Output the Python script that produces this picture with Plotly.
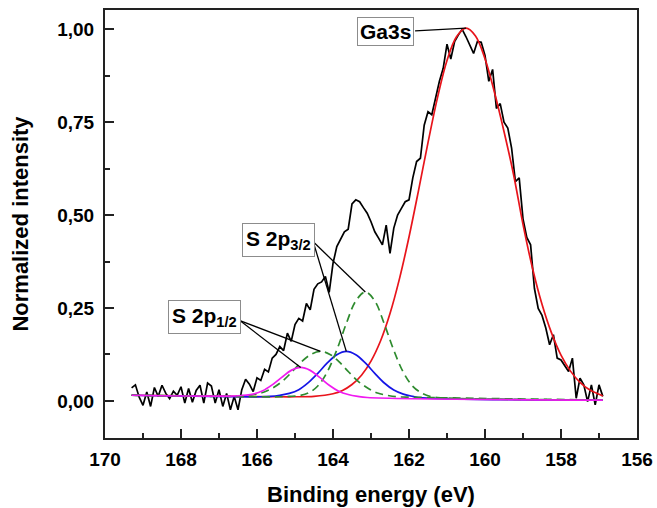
import plotly.graph_objects as go
import numpy as np

# ---- measured spectrum (binding energy, normalized intensity) ----
be = [169.3, 169.2, 169.1, 169.0, 168.9, 168.8, 168.7, 168.6, 168.5, 168.4,
      168.3, 168.2, 168.1, 168.0, 167.9, 167.8, 167.7, 167.6, 167.5, 167.4,
      167.3, 167.2, 167.1, 167.0, 166.9, 166.8, 166.7, 166.6, 166.5, 166.4,
      166.3, 166.2, 166.1, 166.0, 165.9, 165.8, 165.7, 165.6, 165.5, 165.4,
      165.3, 165.2, 165.1, 165.0, 164.9, 164.8, 164.7, 164.6, 164.5, 164.4,
      164.3, 164.2, 164.1, 164.0, 163.9, 163.8, 163.7, 163.6, 163.5, 163.4,
      163.3, 163.2, 163.1, 163.0, 162.9, 162.8, 162.7, 162.6, 162.5, 162.4,
      162.3, 162.2, 162.1, 162.0, 161.9, 161.8, 161.7, 161.6, 161.5, 161.4,
      161.3, 161.2, 161.1, 161.0, 160.9, 160.8, 160.7, 160.6, 160.5, 160.4,
      160.3, 160.2, 160.1, 160.0, 159.9, 159.8, 159.7, 159.6, 159.5, 159.4,
      159.3, 159.2, 159.1, 159.0, 158.9, 158.8, 158.7, 158.6, 158.5, 158.4,
      158.3, 158.2, 158.1, 158.0, 157.9, 157.8, 157.7, 157.6, 157.5, 157.4,
      157.3, 157.2, 157.1, 157.0, 156.9]
intensity = [0.035, 0.043, 0.010, -0.012, 0.024, -0.015, 0.036, 0.012, 0.042, 0.020,
             0.006, 0.026, 0.015, 0.038, -0.006, 0.033, -0.004, 0.028, 0.042, -0.006,
             0.048, 0.040, -0.006, 0.030, -0.015, 0.020, -0.024, 0.012, -0.024, 0.030,
             0.058, 0.045, 0.025, 0.062, 0.055, 0.085, 0.078, 0.115, 0.125, 0.146,
             0.135, 0.182, 0.160, 0.205, 0.222, 0.215, 0.262, 0.245, 0.300, 0.315,
             0.320, 0.335, 0.292, 0.370, 0.415, 0.435, 0.455, 0.462, 0.530, 0.541,
             0.536, 0.520, 0.505, 0.482, 0.455, 0.438, 0.420, 0.473, 0.397, 0.465,
             0.500, 0.518, 0.536, 0.541, 0.600, 0.644, 0.653, 0.742, 0.778, 0.770,
             0.814, 0.860, 0.895, 0.960, 0.920, 0.967, 0.985, 1.000, 0.980, 0.955,
             0.935, 0.967, 0.965, 0.930, 0.860, 0.892, 0.787, 0.800, 0.750, 0.734,
             0.680, 0.590, 0.600, 0.490, 0.440, 0.420, 0.303, 0.249, 0.230, 0.196,
             0.151, 0.178, 0.115, 0.110, 0.095, 0.079, 0.115, 0.007, 0.061, 0.043,
             -0.002, 0.043, -0.011, 0.043, 0.012]

# ---- fitted components ----
ga3s_x = [169.3, 165.5, 165.0, 164.5, 164.0, 163.75, 163.5, 163.25, 163.0, 162.75,
          162.5, 162.25, 162.0, 161.75, 161.5, 161.25, 161.0, 160.75, 160.5, 160.25,
          160.0, 159.75, 159.5, 159.25, 159.0, 158.75, 158.5, 158.25, 158.0, 157.75,
          157.5, 157.25, 157.0, 156.9]
ga3s_y = [0.015, 0.011, 0.011, 0.012, 0.019, 0.028, 0.044, 0.069, 0.107, 0.161,
          0.235, 0.329, 0.441, 0.566, 0.695, 0.816, 0.916, 0.980, 1.003, 0.982,
          0.921, 0.830, 0.725, 0.610, 0.475, 0.357, 0.260, 0.183, 0.123, 0.080,
          0.050, 0.030, 0.018, 0.013]

s32a_x = [169.3, 165.4, 165.15, 164.9, 164.65, 164.4, 164.15, 163.9, 163.65, 163.4,
          163.15, 162.9, 162.65, 162.4, 162.15, 161.9, 161.65, 161.4, 161.15, 156.9]
s32a_y = [0.015, 0.011, 0.012, 0.014, 0.021, 0.040, 0.078, 0.137, 0.208, 0.269,
          0.293, 0.269, 0.207, 0.136, 0.077, 0.039, 0.020, 0.011, 0.008, 0.002]

s12a_x = [169.3, 166.58, 166.33, 166.08, 165.83, 165.58, 165.33, 165.08, 164.83, 164.58,
          164.33, 164.08, 163.83, 163.58, 163.33, 163.08, 162.83, 162.58, 162.33, 162.08, 156.9]
s12a_y = [0.015, 0.013, 0.014, 0.017, 0.023, 0.035, 0.053, 0.078, 0.105, 0.125,
          0.133, 0.125, 0.104, 0.077, 0.052, 0.034, 0.021, 0.015, 0.011, 0.010, 0.002]

s32b_x = [169.3, 165.9, 165.65, 165.4, 165.15, 164.9, 164.65, 164.4, 164.15, 163.9,
          163.65, 163.4, 163.15, 162.9, 162.65, 162.4, 162.15, 161.9, 161.65, 156.9]
s32b_y = [0.015, 0.011, 0.012, 0.015, 0.020, 0.030, 0.049, 0.074, 0.102, 0.124,
          0.133, 0.124, 0.102, 0.074, 0.048, 0.029, 0.018, 0.012, 0.008, 0.002]

s12b_x = [169.3, 166.6, 166.35, 166.1, 165.85, 165.6, 165.35, 165.1, 164.85, 164.6,
          164.35, 164.1, 163.85, 163.6, 163.35, 163.1, 156.9]
s12b_y = [0.015, 0.013, 0.015, 0.018, 0.027, 0.043, 0.063, 0.082, 0.090, 0.082,
          0.063, 0.042, 0.026, 0.017, 0.012, 0.009, 0.002]

x_ticks = [170, 168, 166, 164, 162, 160, 158, 156]
y_ticks = [0.0, 0.25, 0.5, 0.75, 1.0]

FONT = "Liberation Sans, Arial, sans-serif"
RED = "#e8141b"
BLUE = "#1515e6"
GREEN = "#2e8b2e"
MAG = "#f01af0"

fig = go.Figure()
fig.add_trace(go.Scatter(x=be, y=intensity, mode="lines",
                         line=dict(color="black", width=1.7)))
fig.add_trace(go.Scatter(x=ga3s_x, y=ga3s_y, mode="lines", line_shape="spline",
                         line=dict(color=RED, width=1.7)))
fig.add_trace(go.Scatter(x=s32b_x, y=s32b_y, mode="lines", line_shape="spline",
                         line=dict(color=BLUE, width=1.7)))
fig.add_trace(go.Scatter(x=s32a_x, y=s32a_y, mode="lines", line_shape="spline",
                         line=dict(color=GREEN, width=1.7, dash="8px,5px")))
fig.add_trace(go.Scatter(x=s12a_x, y=s12a_y, mode="lines", line_shape="spline",
                         line=dict(color=GREEN, width=1.7, dash="8px,5px")))
fig.add_trace(go.Scatter(x=s12b_x, y=s12b_y, mode="lines", line_shape="spline",
                         line=dict(color=MAG, width=1.7)))

def peak(xs, ys):
    i = int(np.argmax(ys))
    return xs[i], ys[i]

shapes = []
def leader(x0, y0, pk):
    shapes.append(dict(type="line", xref="x", yref="y", x0=x0, y0=y0,
                       x1=pk[0], y1=pk[1], line=dict(color="black", width=1.3)))

leader(161.84, 0.996, peak(ga3s_x, ga3s_y))
leader(164.52, 0.428, peak(s32a_x, s32a_y))
leader(164.52, 0.428, peak(s32b_x, s32b_y))
leader(166.45, 0.216, peak(s12a_x, s12a_y))
leader(166.45, 0.216, peak(s12b_x, s12b_y))

ann_common = dict(xref="x", yref="y", showarrow=False, bgcolor="white",
                  bordercolor="#8c8c8c", borderwidth=1,
                  font=dict(family=FONT, size=21, color="black"))
annotations = [
    dict(x=162.61, y=0.993, text="<b>Ga3s</b>", borderpad=2, **ann_common),
    dict(x=165.44, y=0.432, text="<b>S 2p<sub>3/2</sub></b>", borderpad=3, **ann_common),
    dict(x=167.37, y=0.225, text="<b>S 2p<sub>1/2</sub></b>", borderpad=3, **ann_common),
]

fig.update_layout(
    width=657, height=508,
    margin=dict(l=105, r=20, t=10, b=70),
    paper_bgcolor="white", plot_bgcolor="white",
    showlegend=False, separators=",.",
    font=dict(family=FONT, color="black"),
    shapes=shapes, annotations=annotations,
)
fig.update_xaxes(
    range=[170, 156], tickvals=x_ticks, ticktext=[str(v) for v in x_ticks],
    automargin=False,
    ticks="inside", ticklen=9, tickwidth=1.5, tickcolor="#222",
    minor=dict(ticks="inside", dtick=1, ticklen=5, tickwidth=1.5, tickcolor="#222"),
    showline=True, linecolor="#222", linewidth=2, mirror=True,
    showgrid=False, zeroline=False,
    tickfont=dict(family=FONT, size=19, weight="bold"), ticklabelstandoff=3,
    title=dict(text="<b>Binding energy (eV)</b>", font=dict(family=FONT, size=22), standoff=18),
)
fig.update_yaxes(
    range=[-0.1, 1.052], tickvals=y_ticks, tickformat=".2f",
    automargin=False,
    ticks="inside", ticklen=9, tickwidth=1.5, tickcolor="#222",
    minor=dict(ticks="inside", dtick=0.125, tick0=0, ticklen=5, tickwidth=1.5, tickcolor="#222"),
    showline=True, linecolor="#222", linewidth=2, mirror=True,
    showgrid=False, zeroline=False,
    tickfont=dict(family=FONT, size=19, weight="bold"), ticklabelstandoff=5,
    title=dict(text="<b>Normalized intensity</b>", font=dict(family=FONT, size=22), standoff=23),
)

fig.write_html("out.html", config={"displayModeBar": False},
               post_script="document.body.style.margin='0';")
